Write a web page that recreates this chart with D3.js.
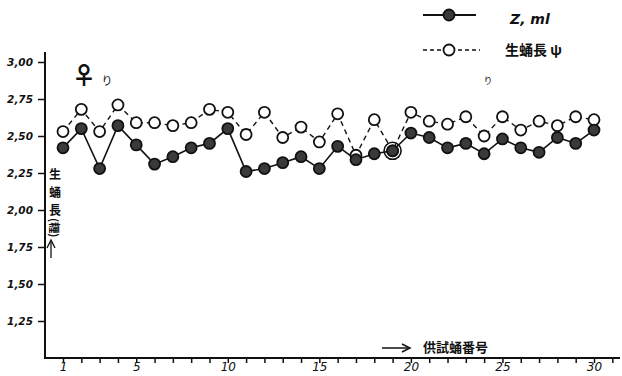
<!DOCTYPE html>
<html><head><meta charset="utf-8">
<script src="https://cdn.jsdelivr.net/npm/d3@7"></script>
<style>body{margin:0;background:#fff}svg{display:block}</style>
</head><body>
<svg id="c" width="622" height="376"></svg>
<script>
const specimens = d3.range(1, 31);
const seriesZml = [2.42,2.55,2.28,2.57,2.44,2.31,2.36,2.42,2.45,2.55,2.26,2.28,2.32,2.36,2.28,2.43,2.34,2.38,2.40,2.52,2.49,2.42,2.45,2.38,2.48,2.42,2.39,2.49,2.45,2.54];
const seriesLen = [2.53,2.68,2.53,2.71,2.59,2.59,2.57,2.59,2.68,2.66,2.51,2.66,2.49,2.56,2.46,2.65,2.37,2.61,2.40,2.66,2.60,2.58,2.63,2.50,2.63,2.54,2.60,2.57,2.63,2.61];
const yTicks = [1.25,1.50,1.75,2.00,2.25,2.50,2.75,3.00];
const yTickLabels = ["1,25","1,50","1,75","2,00","2,25","2,50","2,75","3,00"];
const xTickLabels = [1,5,10,15,20,25,30];
const legendLabels = ["Z, ml","生蛹長 ψ"];
const yTitle = ["生","蛹","長","(糎)"];
const xTitle = "供試蛹番号";

const svg = d3.select("#c");
const ink = "#111";
const x = d3.scaleLinear().domain([1,30]).range([63,594]);
const y = d3.scaleLinear().domain([1.0,3.0]).range([358,62]);

// axes
const yAxis = d3.axisLeft(y).tickValues(yTicks).tickSize(7)
  .tickFormat((d,i)=>yTickLabels[i]);
const gy = svg.append("g").attr("transform","translate(45,0)").call(yAxis);
gy.select(".domain").remove();
gy.selectAll("line").attr("stroke",ink).attr("stroke-width",1.5);
gy.selectAll("text").attr("font-family","DejaVu Sans").attr("font-size",10.5)
  .attr("font-style","italic").attr("font-weight","bold").attr("fill",ink).attr("dx",-2);
svg.append("line").attr("x1",45).attr("x2",45).attr("y1",52).attr("y2",359)
  .attr("stroke",ink).attr("stroke-width",2);

const xAxis = d3.axisBottom(x).tickValues(d3.range(1,32)).tickSize(5)
  .tickFormat(d=>xTickLabels.includes(d)?String(d):"");
const gx = svg.append("g").attr("transform","translate(0,358)").call(xAxis);
gx.select(".domain").remove();
gx.selectAll("line").attr("stroke",ink).attr("stroke-width",1.5);
gx.selectAll("text").attr("font-family","DejaVu Sans").attr("font-size",12)
  .attr("font-style","italic").attr("fill",ink).attr("dy","0.45em");
svg.append("line").attr("x1",44).attr("x2",620).attr("y1",358).attr("y2",358)
  .attr("stroke",ink).attr("stroke-width",2.2);

// series
const lineGen = d3.line().x((d,i)=>x(specimens[i])).y(d=>y(d));
svg.append("path").datum(seriesLen).attr("d",lineGen).attr("fill","none")
  .attr("stroke",ink).attr("stroke-width",1.4).attr("stroke-dasharray","5,4");
svg.append("path").datum(seriesZml).attr("d",lineGen).attr("fill","none")
  .attr("stroke",ink).attr("stroke-width",1.6);
svg.append("g").selectAll("circle").data(seriesLen).join("circle")
  .attr("cx",(d,i)=>x(specimens[i])).attr("cy",d=>y(d)).attr("r",5.5)
  .attr("fill","#fff").attr("stroke",ink).attr("stroke-width",1.8);
svg.append("g").selectAll("circle").data(seriesZml).join("circle")
  .attr("cx",(d,i)=>x(specimens[i])).attr("cy",d=>y(d)).attr("r",5.5)
  .attr("fill","#3a3a3a").attr("stroke",ink).attr("stroke-width",1.8);
// ring around coincident point 19
svg.append("circle").attr("cx",x(specimens[18])).attr("cy",y(seriesZml[18])).attr("r",8.5)
  .attr("fill","none").attr("stroke",ink).attr("stroke-width",1.6);

// legend
const lg = svg.append("g");
lg.append("line").attr("x1",423).attr("x2",476).attr("y1",15).attr("y2",15).attr("stroke",ink).attr("stroke-width",2);
lg.append("circle").attr("cx",449).attr("cy",15).attr("r",5.5).attr("fill","#3a3a3a").attr("stroke",ink).attr("stroke-width",1.8);
lg.append("line").attr("x1",423).attr("x2",480).attr("y1",50).attr("y2",50).attr("stroke",ink).attr("stroke-width",1.6).attr("stroke-dasharray","4,3");
lg.append("circle").attr("cx",449).attr("cy",50).attr("r",5.5).attr("fill","#fff").attr("stroke",ink).attr("stroke-width",1.8);
lg.append("text").attr("x",510).attr("y",24).text(legendLabels[0])
  .attr("font-family","DejaVu Sans").attr("font-style","italic").attr("font-weight","bold").attr("font-size",14).attr("fill",ink);
lg.append("text").attr("x",505).attr("y",55).text(legendLabels[1])
  .attr("font-family","Noto Sans CJK JP").attr("font-weight","bold").attr("font-size",14).attr("fill",ink);

// annotations
svg.append("text").attr("x",84).attr("y",84).attr("text-anchor","middle").text("♀")
  .attr("font-family","Noto Sans CJK JP").attr("font-size",24).attr("font-weight","bold").attr("fill",ink);
svg.append("text").attr("x",107).attr("y",85).attr("text-anchor","middle").text("り")
  .attr("font-family","Noto Sans CJK JP").attr("font-size",11).attr("fill",ink);
svg.append("text").attr("x",488).attr("y",84).attr("text-anchor","middle").text("り")
  .attr("font-family","Noto Sans CJK JP").attr("font-size",9).attr("fill",ink);

// y title (vertical)
const yt = svg.append("g").attr("font-family","Noto Sans CJK JP").attr("font-weight","bold").attr("fill",ink);
yt.append("text").attr("x",55).attr("y",179).attr("text-anchor","middle").attr("font-size",12).text(yTitle[0]);
yt.append("text").attr("x",55).attr("y",197).attr("text-anchor","middle").attr("font-size",12).text(yTitle[1]);
yt.append("text").attr("x",55).attr("y",215).attr("text-anchor","middle").attr("font-size",12).text(yTitle[2]);
yt.append("text").attr("transform","translate(50,218) rotate(90)").attr("font-size",11).text(yTitle[3]);
svg.append("line").attr("x1",51).attr("x2",51).attr("y1",258).attr("y2",242).attr("stroke",ink).attr("stroke-width",1.3);
svg.append("path").attr("d","M47,248 L51,240 L55,248").attr("fill","none").attr("stroke",ink).attr("stroke-width",1.3);

// x title
svg.append("line").attr("x1",382).attr("x2",408).attr("y1",348).attr("y2",348).attr("stroke",ink).attr("stroke-width",1.5);
svg.append("path").attr("d","M402,344 L410,348 L402,352").attr("fill","none").attr("stroke",ink).attr("stroke-width",1.5);
svg.append("text").attr("x",423).attr("y",352).text(xTitle)
  .attr("font-family","Noto Sans CJK JP").attr("font-weight","bold").attr("font-size",13).attr("fill",ink);
</script>
</body></html>
